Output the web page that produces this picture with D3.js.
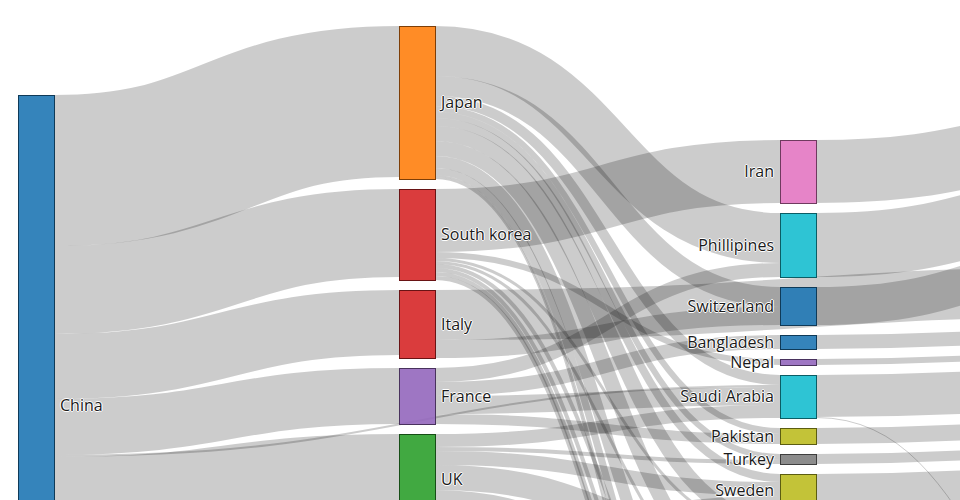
<!DOCTYPE html>
<html>
<head>
<meta charset="utf-8">
<script src="https://cdn.jsdelivr.net/npm/d3@7"></script>
<style>
  html, body { margin: 0; padding: 0; background: #fff; overflow: hidden; }
  .label {
    font: 16px "Open Sans", sans-serif;
    fill: #1a1a1a;
    text-shadow: 0 1px 0 #fff, 1px 0 0 #fff, 0 -1px 0 #fff, -1px 0 0 #fff;
    pointer-events: none;
  }
</style>
</head>
<body>
<svg id="chart"></svg>
<script>
// ---------------- data ----------------
const nodeNames = [
  "China",
  "Japan", "South korea", "Italy", "France", "UK", "USA", "Germany",
  "Iran", "Phillipines", "Switzerland", "Bangladesh", "Nepal", "Saudi Arabia",
  "Pakistan", "Turkey", "Sweden", "India", "Thailand", "Singapore", "Malaysia",
  "Vietnam", "Australia",
  "Brazil", "Egypt", "Qatar", "Kuwait", "Oman", "Greece", "Norway", "Peru", "Chile", "Mexico"
];
const nodeColumns = [
  0,
  1, 1, 1, 1, 1, 1, 1,
  2, 2, 2, 2, 2, 2, 2, 2, 2, 2, 2, 2, 2, 2, 2,
  3, 3, 3, 3, 3, 3, 3, 3, 3, 3
];
const flows = [
  ["China", "Japan", 151],
  ["China", "South korea", 88],
  ["China", "Italy", 65],
  ["China", "France", 56],
  ["China", "Saudi Arabia", 2],
  ["China", "UK", 90],
  ["China", "USA", 80],
  ["China", "Germany", 88],

  ["Japan", "Phillipines", 50],
  ["Japan", "Switzerland", 20],
  ["Japan", "Saudi Arabia", 10],
  ["Japan", "Pakistan", 6],
  ["Japan", "Turkey", 6],
  ["Japan", "Sweden", 8],
  ["Japan", "India", 15],
  ["Japan", "Thailand", 15],
  ["Japan", "Singapore", 12],
  ["Japan", "Malaysia", 7],
  ["Japan", "Vietnam", 2],
  ["Japan", "Australia", 2],

  ["South korea", "Iran", 63],
  ["South korea", "Nepal", 6],
  ["South korea", "India", 3],
  ["South korea", "Thailand", 3],
  ["South korea", "Singapore", 4],
  ["South korea", "Malaysia", 4],
  ["South korea", "Vietnam", 4],
  ["South korea", "Australia", 4],

  ["Italy", "Brazil", 50],
  ["Italy", "Switzerland", 18],

  ["France", "Phillipines", 14],
  ["France", "Bangladesh", 14],
  ["France", "Saudi Arabia", 18],
  ["France", "Pakistan", 10],

  ["UK", "Saudi Arabia", 13],
  ["UK", "Turkey", 4],
  ["UK", "Sweden", 14],
  ["UK", "India", 25],
  ["UK", "Thailand", 34],

  ["USA", "Sweden", 10],
  ["USA", "India", 20],
  ["USA", "Thailand", 30],
  ["USA", "Singapore", 20],

  ["Germany", "Thailand", 30],
  ["Germany", "Singapore", 30],
  ["Germany", "Malaysia", 28],

  ["Iran", "Brazil", 63],
  ["Phillipines", "Brazil", 64],
  ["Switzerland", "Brazil", 38],
  ["Bangladesh", "Egypt", 14],
  ["Nepal", "Qatar", 6],
  ["Saudi Arabia", "Kuwait", 42],
  ["Saudi Arabia", "Mexico", 1],
  ["Pakistan", "Oman", 16],
  ["Turkey", "Greece", 10],
  ["Sweden", "Norway", 32],
  ["India", "Peru", 63],
  ["Thailand", "Chile", 112]
];

// ---------------- style / layout constants ----------------
const nodeColors = {
  "China": "#1f77b4", "Japan": "#ff7f0e", "South korea": "#d62728", "Italy": "#d62728",
  "France": "#9467bd", "UK": "#2ca02c", "USA": "#8c564b", "Germany": "#e377c2",
  "Iran": "#e377c2", "Phillipines": "#17becf", "Switzerland": "#1f77b4",
  "Bangladesh": "#1f77b4", "Nepal": "#9467bd", "Saudi Arabia": "#17becf",
  "Pakistan": "#bcbd22", "Turkey": "#7f7f7f", "Sweden": "#bcbd22",
  "India": "#ff7f0e", "Thailand": "#2ca02c", "Singapore": "#d62728",
  "Malaysia": "#9467bd", "Vietnam": "#8c564b", "Australia": "#e377c2"
};
const WIDTH = 1215, HEIGHT = 1100;      // full drawing
const VIEW_W = 960, VIEW_H = 500;       // visible window
const NODE_W = 36, PAD = 10;
const columnTop = [95, 26, 140, 101];

const svg = d3.select("#chart").attr("width", WIDTH).attr("height", HEIGHT);

const colX = d3.scaleLinear().domain([0, 3]).range([18, 18 + 3 * 381]);
const ky = d3.scaleLinear().domain([0, 1]).range([0, 1]);
const color = name => nodeColors[name] || "#7f7f7f";

// ---------------- layout ----------------
const nodes = nodeNames.map((name, i) => ({
  name, index: i, col: nodeColumns[i], sourceLinks: [], targetLinks: []
}));
const byName = new Map(nodes.map(n => [n.name, n]));
const links = flows.map(([s, t, v]) => {
  const l = { source: byName.get(s), target: byName.get(t), value: v };
  l.source.sourceLinks.push(l);
  l.target.targetLinks.push(l);
  return l;
});
nodes.forEach(n => {
  n.value = Math.max(d3.sum(n.sourceLinks, l => l.value), d3.sum(n.targetLinks, l => l.value));
});
d3.groups(nodes, n => n.col).forEach(([col, colNodes]) => {
  let y = columnTop[col];
  colNodes.forEach(n => {
    n.x0 = colX(col);
    n.x1 = n.x0 + NODE_W;
    n.y0 = y;
    n.y1 = y + ky(n.value);
    y = n.y1 + PAD;
  });
});
nodes.forEach(n => {
  n.sourceLinks.sort((a, b) => a.target.y0 - b.target.y0 || a.target.index - b.target.index);
  n.targetLinks.sort((a, b) => a.source.y0 - b.source.y0 || a.source.index - b.source.index);
  let y0 = n.y0;
  n.sourceLinks.forEach(l => { l.width = ky(l.value); l.y0 = y0 + l.width / 2; y0 += l.width; });
  let y1 = n.y0;
  n.targetLinks.forEach(l => { l.y1 = y1 + ky(l.value) / 2; y1 += ky(l.value); });
});

// ---------------- draw ----------------
const linkPath = d3.linkHorizontal()
  .source(d => [d.source.x1, d.y0])
  .target(d => [d.target.x0, d.y1]);

svg.append("g")
    .attr("fill", "none")
    .attr("stroke", "#000")
    .attr("stroke-opacity", 0.2)
  .selectAll("path")
  .data(links)
  .join("path")
    .attr("d", linkPath)
    .attr("stroke-width", d => Math.max(1, d.width));

const node = svg.append("g")
  .selectAll("g")
  .data(nodes)
  .join("g");

node.append("rect")
    .attr("x", d => d.x0)
    .attr("y", d => d.y0)
    .attr("width", d => d.x1 - d.x0)
    .attr("height", d => d.y1 - d.y0)
    .attr("fill", d => color(d.name))
    .attr("fill-opacity", 0.9)
    .attr("stroke", d => d3.rgb(color(d.name)).darker(2))
    .attr("shape-rendering", "crispEdges");

// labels only for nodes whose label falls inside the visible window
node.filter(d => (d.y0 + d.y1) / 2 < VIEW_H - 8 && d.x0 < VIEW_W)
  .append("text")
    .attr("class", "label")
    .attr("x", d => d.x0 < WIDTH / 2 ? d.x1 + 6 : d.x0 - 6)
    .attr("y", d => (d.y0 + d.y1) / 2)
    .attr("dy", "0.35em")
    .attr("text-anchor", d => d.x0 < WIDTH / 2 ? "start" : "end")
    .text(d => d.name);
</script>
</body>
</html>
